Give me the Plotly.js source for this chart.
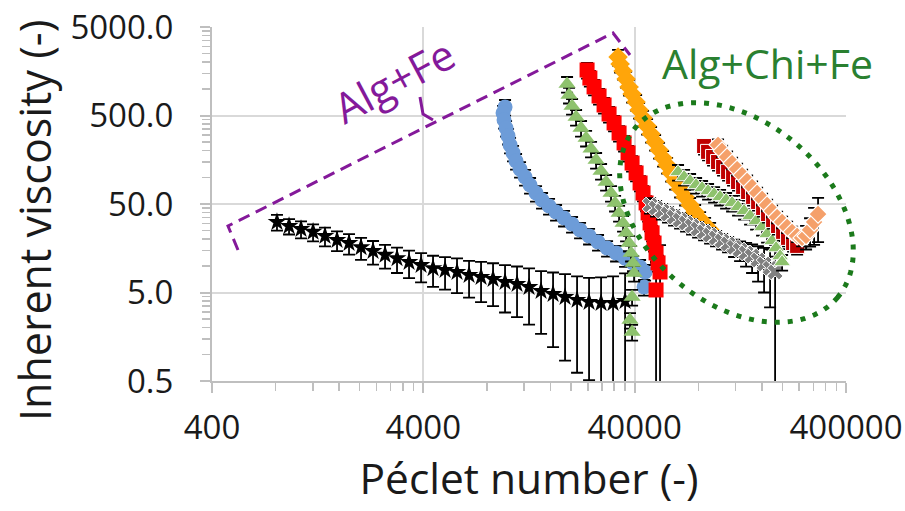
<!DOCTYPE html>
<html>
<head>
<meta charset="utf-8">
<script src="https://cdn.plot.ly/plotly-3.0.1.min.js"></script>
<style>
html,body{margin:0;padding:0;background:#fff;}
#chart{width:905px;height:511px;}
</style>
</head>
<body>
<div id="chart"></div>
<script>
// ---------- data ----------
const pe_black = [812,926,1055,1203,1370,1562,1780,2029,2312,2636,3003,3423,3902,4446,5068,5774,6583,7502,8550,9744,11104,12655,14426,16440,18737,21356,24337,27738,31614,36036];
const vis_black = [31.3,28.2,26.1,24.2,21.8,19.6,18.1,16.2,14.7,13.3,12.2,11.05,10.2,9.4,8.98,8.52,7.88,7.49,7.1,6.57,6.23,5.77,5.2,4.81,4.45,4.12,3.91,3.81,3.81,4.01];
const err_black = [6.3,5.6,5.7,5.3,5.2,4.9,4.7,4.5,4.4,4.0,3.9,3.8,3.7,3.6,3.6,3.6,3.5,3.6,3.6,3.6,3.6,3.6,3.5,3.6,3.6,3.5,3.4,3.6,3.8,4.2];

const pe_blue = [9744,9533,9637,9852,10067,10290,10631,10986,11474,12117,12796,13659,14584,15738,16986,18533,20222,22064,24337,26837,29617,32666,36036,39311,42430,44804,44310];
const vis_blue = [624,534,445,361,294,233,189,153,124,101,82,66.5,55.5,47.5,40.6,34.8,29.7,25.5,21.8,18.6,15.9,14.0,12.2,10.8,9.7,8.52,5.77];

const pe_green = [19150,19568,20222,21126,22300,23561,24871,26275,27738,29300,30923,32313,33751,35257,36435,37636,38469,39311,39748,38886,38018,38886];
const vis_green = [1135,854,640,481,361,279,210,157,118,88.6,66.5,51.4,39.6,30.5,23.6,18.1,14.0,10.8,8.3,4.45,2.44,1.79];

const pe_red = [23816,24555,25703,27139,28661,30264,31962,33751,35644,37225,38886,40624,42430,43836,45300,46300,47310,48355,49415,50500,51605,52740,50500];
const vis_red = [1634,1326,1052,830,657,520,412,317,245,189,145,112,86.4,66.5,51.4,39.6,30.5,23.6,18.1,14.0,10.8,8.52,5.34];
const err_red = [327,265,210,166,131,104,82,63,49,38,29,22,17,13,10,8,6,4.7,3.6,2.8,2.2,8.6,5.5];

const pe_orange = [33372,34123,35257,36435,37636,38886,40624,41959,43836,45789,47830,49965,52170,54514,56950,59487,62134,65620,69285,73167,77263,81600,86160,90990];
const vis_orange = [2293,1908,1592,1293,1052,875,710,577,470,380,309,251,204,165,138,112,91,74,60.1,48.7,40.6,33.8,29.0,25.5];

const pe_gray = [47310,50500,53925,57544,61448,65620,70048,74775,79837,85220,90990,97120,103690,110700,118170,126160,134690,143780,153500,163850,174910,184740];
const vis_gray = [48.7,45.1,41.7,38.5,35.6,32.9,30.5,28.2,26.1,24.2,22.3,20.7,19.1,17.7,16.2,15.1,14.0,12.9,11.65,10.5,9.4,8.52];
const err_gray = [9.7,9,8.3,7.7,7.1,6.6,6.1,5.6,5.2,4.8,4.5,4.1,3.8,3.5,3.6,3.8,4.2,4.6,5.0,5.5,6.0,8.6];

const pe_green2 = [64168,68526,73167,78120,83385,89000,95030,101450,108320,115630,123390,131780,140700,150210,160330,169320,178790,186780,195120,199380];
const vis_green2 = [115,101,91,82,75.8,70.1,64.8,60.1,55.5,51.4,46.3,41.7,36.6,32.1,27.5,22.9,19.1,15.9,12.9,11.05];

const pe_darkred = [85220,89000,94000,99220,104820,110700,116890,123390,130360,137630,145350,153500,162080,171100,180740,190800,201560,212770,224760,234800];
const vis_darkred = [226,194,170,149,131,115,101,88.6,77.9,68.3,60.1,52.7,45.1,38.5,32.9,28.2,24.2,20.7,18.1,16.8];

const pe_peach = [99220,103690,109500,115630,122110,128950,136180,143780,151840,160330,169320,178790,188810,199380,210550,222330,234800,247920,258900,270400,282540,295030];
const vis_peach = [233,199,170,145,124,106,91,77.9,66.5,57.0,48.7,41.7,35.6,31.3,27.5,24.2,21.8,20.7,21.8,25.5,31.3,38.5];
const err_peach = [35,30,26,22,19,16,14,12,10,8.6,7.3,6.3,5.3,4.7,4.1,3.6,3.3,4.1,6.5,9,14,20];

// axis ticks
const xTickVals = [400, 4000, 40000, 400000];
const xTickText = ['400', '4000', '40000', '400000'];
const yTickVals = [0.5, 5, 50, 500, 5000];
const yTickText = ['0.5', '5.0', '50.0', '500.0', '5000.0'];
const minorMult = [2, 3, 4, 5, 6, 7, 8, 9];

// annotation texts
const labelAlgFe = 'Alg+Fe';
const labelAlgChiFe = 'Alg+Chi+Fe';
const xTitle = 'Péclet number (-)';
const yTitle = 'Inherent viscosity (-)';

// ---------- build ----------
function minorTicks(majors){
  const out = [];
  for (let i = 0; i < majors.length - 1; i++) minorMult.forEach(m => out.push(majors[i] * m));
  return out;
}

const FONT = 'Open Sans, Liberation Sans, sans-serif';
const EB = (arr) => ({type:'data', array:arr, visible:true, color:'#000', thickness:1.8, width:6});
const EBP = {type:'percent', value:20, visible:true, color:'#000', thickness:1.8, width:6};

function tr(x, y, err, sym, size, color, lineColor, lineW){
  return {x:x, y:y, type:'scatter', mode:'markers', error_y:err,
    marker:{symbol:sym, size:size, color:color, line:{color:lineColor, width:lineW}},
    hoverinfo:'x+y'};
}

const traces = [
  tr(pe_black, vis_black, EB(err_black), 'star', 14, '#000000', '#000000', 0),
  tr(pe_blue, vis_blue, EBP, 'circle', 15, '#6d9cd8', '#6d9cd8', 0),
  tr(pe_green, vis_green, EBP, 'triangle-up', 15, '#8ec26d', '#8ec26d', 0),
  tr(pe_red, vis_red, EB(err_red), 'square', 15, '#ff0000', '#ff0000', 0),
  tr(pe_orange, vis_orange, EBP, 'diamond', 15, '#ffa50a', '#ffa50a', 0),
  tr(pe_gray, vis_gray, EB(err_gray), 'x', 14, '#808080', '#ffffff', 1),
  tr(pe_green2, vis_green2, EBP, 'triangle-up', 15, '#8ec26d', '#ffffff', 1),
  tr(pe_darkred, vis_darkred, EBP, 'square', 15, '#c00000', '#ffffff', 1),
  tr(pe_peach, vis_peach, EB(err_peach), 'diamond', 14, '#f5a06a', '#ffffff', 1.2)
];

// plot area in pixels (for decorative shapes)
const L = 212, R = 846, T = 27, B = 381;
const px = (x) => (x - L) / (R - L);
const py = (y) => (B - y) / (B - T);

// dotted ellipse (Alg+Chi+Fe)
const ecx = 736.5, ecy = 212.5, ea = 132, eb = 91, eth = 40 * Math.PI / 180;
let ep = '';
for (let i = 0; i <= 120; i++) {
  const t = 2 * Math.PI * i / 120;
  const xx = ecx + ea * Math.cos(eth) * Math.cos(t) - eb * Math.sin(eth) * Math.sin(t);
  const yy = ecy + ea * Math.sin(eth) * Math.cos(t) + eb * Math.cos(eth) * Math.sin(t);
  ep += (i === 0 ? 'M' : 'L') + px(xx).toFixed(4) + ',' + py(yy).toFixed(4) + ' ';
}
ep += 'Z';

// dashed bracket (Alg+Fe)
const bracket = 'M' + px(238)+','+py(250) + ' L' + px(228)+','+py(226) + ' L' + px(613)+','+py(33) + ' L' + px(630)+','+py(55);
const hook = 'M' + px(420)+','+py(97) + ' L' + px(423)+','+py(114) + ' L' + px(433)+','+py(120);

const layout = {
  width: 905, height: 511,
  margin: {l: L, r: 905 - R, t: T, b: 511 - B, pad: 0},
  paper_bgcolor: '#ffffff', plot_bgcolor: '#ffffff',
  showlegend: false,
  font: {family: FONT, color: '#1a1a1a'},
  xaxis: {
    type: 'log', range: [Math.log10(400), Math.log10(400000)],
    tickmode: 'array', tickvals: xTickVals, ticktext: xTickText,
    ticks: 'outside', ticklen: 10, tickwidth: 2, tickcolor: '#bfbfbf',
    ticklabelstandoff: 6,
    tickfont: {size: 33, family: FONT, color: '#1a1a1a'},
    showline: true, linecolor: '#bfbfbf', linewidth: 2,
    showgrid: true, gridcolor: '#d9d9d9', gridwidth: 2,
    zeroline: false,
    minor: {tickmode: 'array', tickvals: minorTicks(xTickVals), ticks: 'outside', ticklen: 8, tickwidth: 1.5, tickcolor: '#bfbfbf', showgrid: false},
    title: {text: xTitle, font: {size: 42.5, family: FONT, color: '#1a1a1a'}, standoff: 14}
  },
  yaxis: {
    type: 'log', range: [Math.log10(0.5), Math.log10(5000)],
    tickmode: 'array', tickvals: yTickVals, ticktext: yTickText,
    ticks: 'outside', ticklen: 10, tickwidth: 2, tickcolor: '#bfbfbf',
    ticklabelstandoff: 20,
    tickfont: {size: 33, family: FONT, color: '#1a1a1a'},
    showline: true, linecolor: '#bfbfbf', linewidth: 2,
    showgrid: true, gridcolor: '#d9d9d9', gridwidth: 2,
    zeroline: false,
    minor: {tickmode: 'array', tickvals: minorTicks(yTickVals), ticks: 'outside', ticklen: 8, tickwidth: 1.5, tickcolor: '#bfbfbf', showgrid: false}
  },
  shapes: [
    {type: 'path', xref: 'paper', yref: 'paper', path: ep, line: {color: '#1b7a1b', width: 5, dash: '5px,8px'}, fillcolor: 'rgba(0,0,0,0)'},
    {type: 'path', xref: 'paper', yref: 'paper', path: bracket, line: {color: '#84199a', width: 3, dash: '12px,7px'}},
    {type: 'path', xref: 'paper', yref: 'paper', path: hook, line: {color: '#84199a', width: 3}}
  ],
  annotations: [
    {xref: 'paper', yref: 'paper', x: px(35), y: py(221), text: yTitle, showarrow: false, textangle: -90,
     xanchor: 'center', yanchor: 'middle', font: {size: 43, family: FONT, color: '#1a1a1a'}},
    {xref: 'paper', yref: 'paper', x: px(393), y: py(80), text: labelAlgFe, showarrow: false, textangle: -28,
     xanchor: 'center', yanchor: 'middle', font: {size: 42, family: FONT, color: '#84199a'}},
    {xref: 'paper', yref: 'paper', x: px(767), y: py(63), text: labelAlgChiFe, showarrow: false,
     xanchor: 'center', yanchor: 'middle', font: {size: 41, family: FONT, color: '#2a8030'}}
  ]
};

Plotly.newPlot('chart', traces, layout, {displayModeBar: false, staticPlot: true});
</script>
</body>
</html>
